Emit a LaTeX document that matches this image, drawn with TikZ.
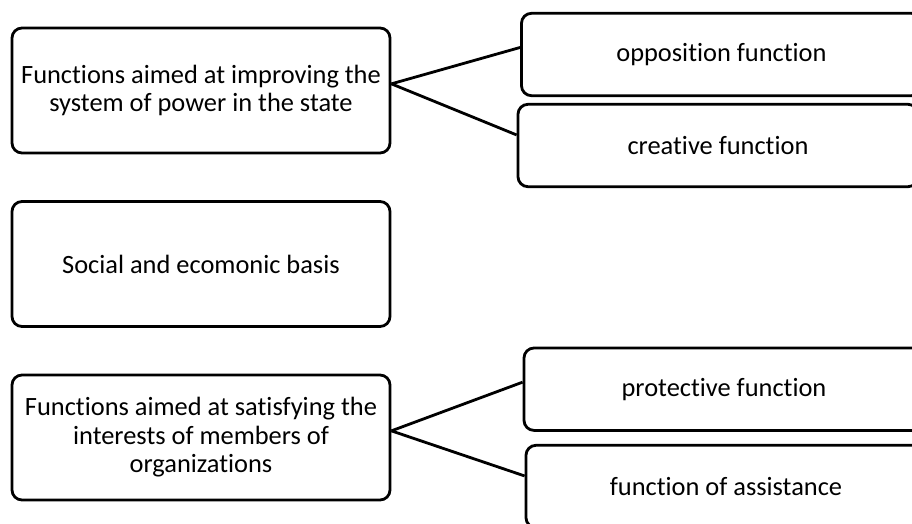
\documentclass[tikz,border=0pt]{standalone}
\usepackage{fontspec}
\setmainfont{Carlito}[Ligatures=NoCommon]
\usetikzlibrary{positioning}

\begin{document}
\begin{tikzpicture}[x=0.5pt,y=-0.5pt,line width=1.4pt]%
\useasboundingbox (0,0) rectangle (912,524);
\clip (0,0) rectangle (912,524);
\begin{scope}[font=\fontsize{13.2}{14.2}\selectfont]%
\tikzstyle{every node}=[draw,rounded corners=5pt,align=center,inner sep=0pt] %%
\tikzstyle{groupbox}=[minimum width=189pt,minimum height=62.5pt] %%
\tikzstyle{funcbox}=[minimum width=200pt,minimum height=41.2pt] %%
\node[groupbox] (imp) at (201,90.5)  {Functions aimed at improving the\\system of power in the state}; %%
\node[groupbox] (basis) at (201,264)  {Social and ecomonic basis}; %%
\node[groupbox] (sat) at (201,437.5)  {Functions aimed at satisfying the\\interests of members of\\organizations}; %%
\node[funcbox] (opp) at (721.5,54.5)  {opposition function}; %%
\node[funcbox] (cre) at (718,145.5)  {creative function}; %%
\node[funcbox] (pro) at (724,389.2)  {protective function}; %%
\node[funcbox] (ass) at (726,486.5)  {function of assistance}; %%
\end{scope}
\draw (imp.2)--(opp.178); %%
\draw (imp.2)--(cre.177.6); %%
\draw (sat.2.3)--(pro.178); %%
\draw (sat.2.3)--(ass.177.3); %%

\end{tikzpicture}
\end{document}
